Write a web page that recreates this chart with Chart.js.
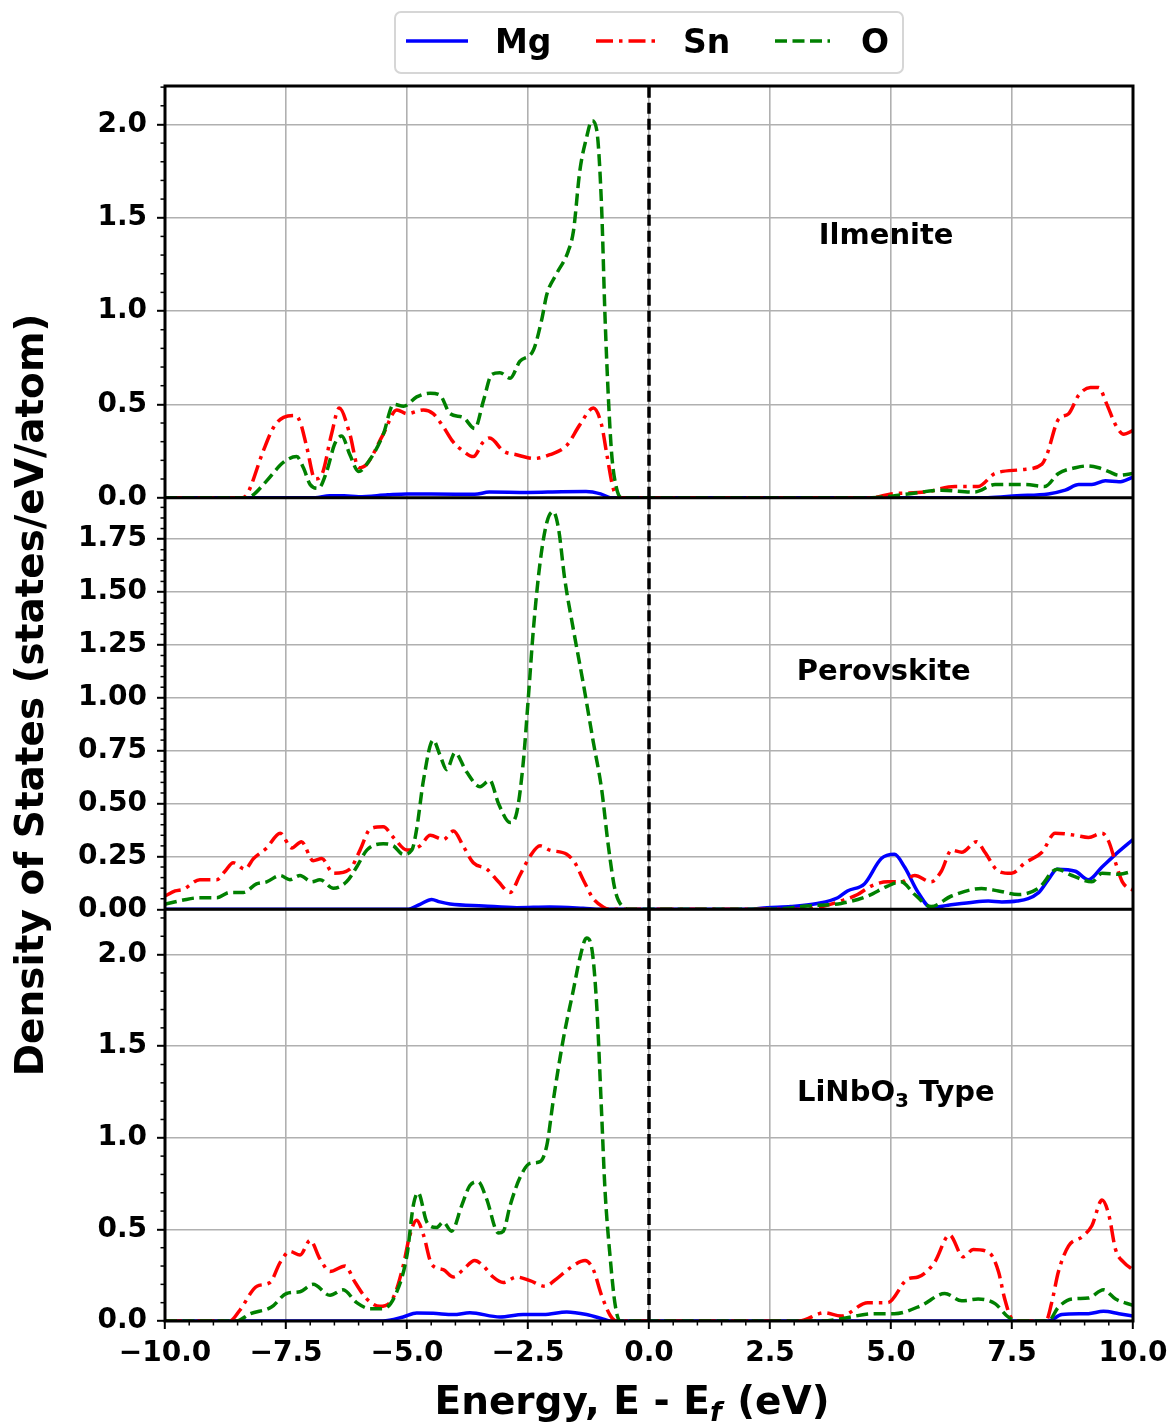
<!DOCTYPE html>
<html>
<head>
<meta charset="utf-8">
<script src="https://cdn.jsdelivr.net/npm/chart.js@4.4.0/dist/chart.umd.min.js"></script>
<style>
  html, body { margin: 0; padding: 0; background: #fff; }
  #wrap { position: relative; width: 1172px; height: 1424px; }
</style>
</head>
<body>
<div id="wrap"><canvas id="dos" width="1172" height="1424"></canvas></div>
<script>
const FONT = '"DejaVu Sans", sans-serif';

// axis ticks
const energyTicks = [-10, -7.5, -5, -2.5, 0, 2.5, 5, 7.5, 10];
const ilmeniteTicks = [0, 0.5, 1, 1.5, 2];
const perovskiteTicks = [0, 0.25, 0.5, 0.75, 1, 1.25, 1.5, 1.75];
const linbo3Ticks = [0, 0.5, 1, 1.5, 2];
const elements = ['Mg', 'Sn', 'O'];

// [energy (eV), DOS]
const ilmeniteMg = [[-10,0],[-6.9,0],[-6.6,0.01],[-6.3,0.01],[-6.0,0.005],[-5.4,0.015],[-5.0,0.02],[-4.0,0.018],[-3.6,0.018],[-3.3,0.03],[-2.5,0.028],[-1.8,0.032],[-1.3,0.033],[-1.0,0.02],[-0.8,0],[7.0,0],[7.6,0.01],[8.25,0.02],[8.6,0.04],[8.88,0.07],[9.15,0.07],[9.43,0.09],[9.71,0.085],[10,0.11]];
const ilmeniteSn = [[-10,0],[-8.4,0],[-8.3,0.02],[-7.97,0.25],[-7.75,0.38],[-7.55,0.43],[-7.3,0.44],[-7.2,0.4],[-7.07,0.27],[-6.9,0.1],[-6.75,0.13],[-6.56,0.34],[-6.4,0.48],[-6.18,0.34],[-6.0,0.16],[-5.83,0.18],[-5.49,0.34],[-5.21,0.47],[-5.0,0.45],[-4.66,0.47],[-4.46,0.45],[-4.25,0.38],[-4.05,0.3],[-3.84,0.25],[-3.63,0.22],[-3.42,0.3],[-3.29,0.32],[-3.01,0.25],[-2.74,0.23],[-2.36,0.21],[-2.05,0.23],[-1.7,0.28],[-1.43,0.39],[-1.15,0.48],[-0.98,0.39],[-0.87,0.23],[-0.74,0.05],[-0.63,0],[4.6,0],[5.0,0.02],[5.7,0.03],[6.32,0.06],[6.8,0.06],[7.15,0.13],[7.7,0.15],[8.12,0.18],[8.22,0.23],[8.46,0.42],[8.67,0.45],[8.88,0.55],[9.12,0.59],[9.29,0.59],[9.46,0.5],[9.64,0.39],[9.81,0.34],[10,0.36]];
const ilmeniteO = [[-10,0],[-8.3,0],[-8.2,0.01],[-7.9,0.09],[-7.55,0.19],[-7.28,0.22],[-7.14,0.16],[-7.0,0.07],[-6.83,0.05],[-6.66,0.14],[-6.49,0.29],[-6.35,0.33],[-6.18,0.23],[-6.0,0.14],[-5.83,0.18],[-5.49,0.34],[-5.28,0.5],[-5.07,0.49],[-4.8,0.54],[-4.52,0.56],[-4.32,0.55],[-4.11,0.45],[-3.84,0.43],[-3.6,0.37],[-3.42,0.52],[-3.25,0.66],[-3.08,0.67],[-2.87,0.64],[-2.67,0.73],[-2.39,0.79],[-2.22,0.95],[-2.11,1.09],[-1.91,1.2],[-1.67,1.32],[-1.56,1.43],[-1.43,1.75],[-1.29,1.93],[-1.18,2.02],[-1.08,1.97],[-0.98,1.56],[-0.91,0.98],[-0.84,0.54],[-0.77,0.23],[-0.67,0.05],[-0.56,0],[4.6,0],[5.35,0.02],[6.04,0.04],[6.73,0.03],[7.15,0.07],[7.77,0.07],[8.18,0.06],[8.46,0.13],[8.81,0.16],[9.05,0.17],[9.29,0.16],[9.5,0.14],[9.71,0.12],[10,0.13]];

const perovskiteMg = [[-10,0],[-5.0,0],[-4.73,0.024],[-4.49,0.047],[-4.32,0.035],[-4.11,0.025],[-3.42,0.016],[-2.73,0.008],[-2.05,0.011],[-1.36,0.005],[-1.0,0],[2.0,0],[2.44,0.008],[2.93,0.013],[3.48,0.028],[3.9,0.055],[4.1,0.087],[4.45,0.12],[4.8,0.24],[5.07,0.26],[5.28,0.2],[5.56,0.08],[5.83,0.008],[6.18,0.019],[6.73,0.035],[7.01,0.039],[7.29,0.035],[7.6,0.039],[8.05,0.079],[8.25,0.14],[8.43,0.19],[8.81,0.18],[9.08,0.14],[9.36,0.2],[9.64,0.26],[10,0.33]];
const perovskiteSn = [[-10,0.063],[-9.79,0.087],[-9.62,0.095],[-9.28,0.14],[-8.93,0.14],[-8.76,0.18],[-8.59,0.22],[-8.35,0.19],[-8.17,0.24],[-7.9,0.29],[-7.62,0.36],[-7.38,0.29],[-7.18,0.32],[-6.94,0.23],[-6.76,0.24],[-6.52,0.17],[-6.18,0.19],[-5.97,0.28],[-5.76,0.38],[-5.49,0.39],[-5.28,0.34],[-5.0,0.28],[-4.73,0.3],[-4.52,0.35],[-4.25,0.33],[-4.04,0.37],[-3.84,0.3],[-3.63,0.22],[-3.35,0.19],[-3.11,0.13],[-2.87,0.08],[-2.67,0.16],[-2.46,0.25],[-2.25,0.3],[-2.05,0.28],[-1.7,0.26],[-1.53,0.22],[-1.36,0.14],[-1.15,0.05],[-0.94,0.01],[-0.8,0],[3.1,0],[3.62,0.016],[3.97,0.04],[4.31,0.07],[4.59,0.11],[4.93,0.13],[5.21,0.13],[5.49,0.16],[5.83,0.13],[6.04,0.18],[6.25,0.28],[6.46,0.27],[6.77,0.32],[6.94,0.27],[7.22,0.18],[7.49,0.17],[7.77,0.22],[8.12,0.27],[8.39,0.36],[8.81,0.35],[9.08,0.34],[9.36,0.36],[9.5,0.32],[9.64,0.22],[9.78,0.13],[10,0.09]];
const perovskiteO = [[-10,0.024],[-9.62,0.044],[-9.28,0.055],[-8.93,0.055],[-8.66,0.08],[-8.38,0.08],[-8.11,0.12],[-7.9,0.13],[-7.62,0.16],[-7.42,0.14],[-7.21,0.16],[-6.97,0.13],[-6.8,0.14],[-6.52,0.1],[-6.25,0.13],[-6.04,0.2],[-5.83,0.28],[-5.49,0.31],[-5.28,0.3],[-5.08,0.26],[-4.9,0.28],[-4.8,0.38],[-4.66,0.61],[-4.46,0.8],[-4.32,0.73],[-4.18,0.66],[-4.01,0.74],[-3.77,0.65],[-3.49,0.58],[-3.29,0.61],[-3.11,0.5],[-2.87,0.41],[-2.73,0.46],[-2.6,0.69],[-2.49,1.01],[-2.39,1.32],[-2.25,1.64],[-2.11,1.83],[-1.98,1.88],[-1.87,1.8],[-1.74,1.56],[-1.56,1.32],[-1.36,1.07],[-1.15,0.79],[-0.98,0.57],[-0.84,0.3],[-0.7,0.09],[-0.53,0.01],[-0.4,0],[2.5,0],[3.27,0.016],[3.97,0.028],[4.52,0.063],[4.93,0.11],[5.21,0.13],[5.49,0.07],[5.83,0.013],[6.25,0.063],[6.87,0.098],[7.22,0.087],[7.63,0.07],[8.05,0.1],[8.43,0.19],[8.74,0.16],[9.15,0.13],[9.36,0.17],[9.71,0.166],[10,0.18]];

const linbo3Mg = [[-10,0],[-5.5,0],[-5.08,0.022],[-4.8,0.044],[-4.46,0.042],[-4.04,0.035],[-3.7,0.045],[-3.08,0.022],[-2.6,0.035],[-2.18,0.035],[-1.7,0.049],[-1.29,0.035],[-0.94,0.01],[-0.8,0],[8.25,0],[8.53,0.035],[9.08,0.04],[9.39,0.053],[9.71,0.04],[10,0.027]];
const linbo3Sn = [[-10,0],[-8.66,0],[-8.45,0.06],[-8.1,0.19],[-7.83,0.21],[-7.62,0.32],[-7.42,0.38],[-7.21,0.36],[-7.0,0.44],[-6.8,0.34],[-6.59,0.27],[-6.28,0.3],[-6.07,0.21],[-5.83,0.12],[-5.56,0.08],[-5.28,0.13],[-5.08,0.3],[-4.94,0.47],[-4.8,0.55],[-4.66,0.47],[-4.49,0.31],[-4.25,0.28],[-4.04,0.24],[-3.84,0.28],[-3.6,0.33],[-3.42,0.3],[-3.22,0.24],[-3.01,0.21],[-2.74,0.24],[-2.46,0.22],[-2.15,0.19],[-1.91,0.23],[-1.63,0.29],[-1.32,0.33],[-1.15,0.28],[-0.98,0.14],[-0.8,0.03],[-0.67,0],[3.1,0],[3.62,0.045],[3.97,0.027],[4.52,0.1],[4.93,0.1],[5.35,0.23],[5.56,0.24],[5.9,0.32],[6.21,0.47],[6.49,0.35],[6.7,0.39],[7.04,0.37],[7.22,0.27],[7.35,0.12],[7.49,0.013],[7.6,0],[8.2,0],[8.32,0.1],[8.46,0.27],[8.67,0.41],[8.95,0.46],[9.15,0.52],[9.36,0.66],[9.5,0.58],[9.64,0.39],[9.81,0.32],[10,0.28]];
const linbo3O = [[-10,0],[-8.52,0],[-8.24,0.04],[-7.8,0.076],[-7.49,0.15],[-7.21,0.16],[-6.94,0.2],[-6.59,0.14],[-6.32,0.17],[-6.04,0.1],[-5.76,0.067],[-5.49,0.067],[-5.21,0.16],[-5.0,0.36],[-4.87,0.63],[-4.77,0.7],[-4.59,0.54],[-4.39,0.51],[-4.25,0.54],[-4.08,0.49],[-3.87,0.63],[-3.7,0.74],[-3.53,0.76],[-3.36,0.67],[-3.11,0.48],[-3.01,0.49],[-2.87,0.63],[-2.67,0.78],[-2.46,0.86],[-2.25,0.87],[-2.11,0.96],[-1.98,1.2],[-1.77,1.54],[-1.56,1.81],[-1.43,1.98],[-1.29,2.09],[-1.18,2.03],[-1.08,1.72],[-0.98,1.14],[-0.91,0.72],[-0.8,0.34],[-0.7,0.09],[-0.6,0],[3.6,0],[3.97,0.013],[4.66,0.04],[5.07,0.04],[5.63,0.085],[6.11,0.15],[6.46,0.11],[6.8,0.12],[7.15,0.095],[7.42,0.022],[7.6,0],[8.25,0],[8.46,0.076],[8.74,0.12],[9.08,0.125],[9.39,0.17],[9.64,0.12],[10,0.085]];

const panels = [
    { axis: 'yIlm', name: 'Ilmenite', max: 2.206, ticks: ilmeniteTicks, digits: 1, minor: 0.1, weight: 3,
      series: [ilmeniteMg, ilmeniteSn, ilmeniteO], labelAt: [4.9, 1.40] },
    { axis: 'yPer', name: 'Perovskite', max: 1.946, ticks: perovskiteTicks, digits: 2, minor: 0.05, weight: 2,
      series: [perovskiteMg, perovskiteSn, perovskiteO], labelAt: [4.85, 1.12] },
    { axis: 'yLin', name: 'LiNbO3 Type', max: 2.247, ticks: linbo3Ticks, digits: 1, minor: 0.1, weight: 1,
      series: [linbo3Mg, linbo3Sn, linbo3O], labelAt: [5.1, 1.24] }
];

const styles = {
    Mg: { color: '#0000ff', dash: [], order: 3 },
    Sn: { color: '#ff0000', dash: [17, 6, 3.5, 6], order: 2 },
    O: { color: '#008000', dash: [12, 5.5], order: 1 }
};

const fmtEnergy = v => (v < 0 ? '\u2212' : '') + Math.abs(v).toFixed(1);

const datasets = [];
panels.forEach(p => {
    elements.forEach((el, i) => {
        datasets.push({
            label: el,
            data: p.series[i],
            yAxisID: p.axis,
            borderColor: styles[el].color,
            borderDash: styles[el].dash,
            borderWidth: 3.5,
            pointRadius: 0,
            fill: false,
            cubicInterpolationMode: 'monotone',
            order: styles[el].order
        });
    });
    // Fermi level
    datasets.push({
        label: 'Ef',
        data: [[0, 0], [0, p.max]],
        yAxisID: p.axis,
        borderColor: '#000',
        borderDash: [11, 5],
        borderWidth: 3.5,
        pointRadius: 0,
        order: 0
    });
});

const gridOpts = { color: '#b0b0b0', lineWidth: 1.6, tickColor: '#000', tickLength: 8, tickWidth: 2 };
const tickFont = { family: FONT, weight: 'bold', size: 28 };

const scales = {
    x: {
        type: 'linear', min: -10, max: 10,
        afterBuildTicks: s => { s.ticks = energyTicks.map(v => ({ value: v })); },
        afterFit: s => { s.height = 60; s.paddingLeft = 0; s.paddingRight = 0; },
        grid: gridOpts,
        border: { display: false },
        ticks: { color: '#000', font: tickFont, padding: 8, maxRotation: 0, autoSkip: false, callback: v => fmtEnergy(v) }
    }
};
panels.forEach(p => {
    scales[p.axis] = {
        type: 'linear', position: 'left', stack: 'dos', stackWeight: 1, weight: p.weight,
        min: 0, max: p.max,
        afterBuildTicks: s => { s.ticks = p.ticks.map(v => ({ value: v })); },
        afterFit: s => { s.width = 150; s.paddingTop = 0; s.paddingBottom = 0; },
        grid: gridOpts,
        border: { display: false },
        ticks: { color: '#000', font: tickFont, padding: 10, autoSkip: false, callback: v => v.toFixed(p.digits) }
    };
});

function seg(ctx, x1, y1, x2, y2) {
    ctx.beginPath();
    ctx.moveTo(x1, y1);
    ctx.lineTo(x2, y2);
    ctx.stroke();
}

const decor = {
    id: 'decor',
    afterDatasetsDraw(chart) {
        const { ctx, chartArea: a, scales: sc } = chart;
        ctx.save();
        ctx.strokeStyle = '#000';
        ctx.lineWidth = 1.5;
        ctx.setLineDash([]);

        // minor ticks
        panels.forEach(p => {
            const s = sc[p.axis];
            for (let i = 1; i * p.minor < p.max; i++) {
                const v = i * p.minor;
                if (p.ticks.some(t => Math.abs(t - v) < 1e-6)) continue;
                const y = s.getPixelForValue(v);
                seg(ctx, a.left - 4.5, y, a.left, y);
            }
        });
        for (let v = -9.5; v < 10; v += 0.5) {
            if (energyTicks.some(t => Math.abs(t - v) < 1e-6)) continue;
            const x = sc.x.getPixelForValue(v);
            seg(ctx, x, a.bottom, x, a.bottom + 4.5);
        }

        // frames
        ctx.lineWidth = 3;
        ctx.strokeRect(a.left, a.top, a.right - a.left, a.bottom - a.top);
        panels.slice(0, -1).forEach(p => {
            const y = sc[p.axis].bottom;
            seg(ctx, a.left, y, a.right, y);
        });

        // panel labels
        ctx.fillStyle = '#000';
        ctx.textBaseline = 'middle';
        panels.forEach(p => {
            const cx = sc.x.getPixelForValue(p.labelAt[0]);
            const cy = sc[p.axis].getPixelForValue(p.labelAt[1]);
            const big = 'bold 29px ' + FONT;
            const small = 'bold 20px ' + FONT;
            if (p.name.startsWith('LiNbO3')) {
                ctx.font = big;
                const w1 = ctx.measureText('LiNbO').width;
                const w3 = ctx.measureText(' Type').width;
                ctx.font = small;
                const w2 = ctx.measureText('3').width;
                let x = cx - (w1 + w2 + w3) / 2;
                ctx.textAlign = 'left';
                ctx.font = big;
                ctx.fillText('LiNbO', x, cy);
                x += w1;
                ctx.font = small;
                ctx.fillText('3', x, cy + 8);
                x += w2;
                ctx.font = big;
                ctx.fillText(' Type', x, cy);
            } else {
                ctx.font = big;
                ctx.textAlign = 'center';
                ctx.fillText(p.name, cx, cy);
            }
        });
        ctx.restore();
    },
    afterDraw(chart) {
        const { ctx } = chart;
        ctx.save();

        // legend
        ctx.beginPath();
        ctx.roundRect(395, 12, 508, 61, 6);
        ctx.fillStyle = '#fff';
        ctx.fill();
        ctx.strokeStyle = '#d6d6d6';
        ctx.lineWidth = 2;
        ctx.stroke();
        const items = [
            { el: 'Mg', x1: 406, x2: 468, tx: 495 },
            { el: 'Sn', x1: 596, x2: 655, tx: 683 },
            { el: 'O', x1: 775, x2: 830, tx: 861 }
        ];
        items.forEach(it => {
            ctx.strokeStyle = styles[it.el].color;
            ctx.setLineDash(styles[it.el].dash);
            ctx.lineWidth = 3.5;
            seg(ctx, it.x1, 41, it.x2, 41);
            ctx.setLineDash([]);
            ctx.fillStyle = '#000';
            ctx.font = 'bold 33px ' + FONT;
            ctx.textAlign = 'left';
            ctx.textBaseline = 'alphabetic';
            ctx.fillText(it.el, it.tx, 53);
        });

        // y title
        ctx.fillStyle = '#000';
        ctx.save();
        ctx.translate(33, 695);
        ctx.rotate(-Math.PI / 2);
        ctx.font = 'bold 39px ' + FONT;
        ctx.textAlign = 'center';
        ctx.textBaseline = 'middle';
        ctx.fillText('Density of States (states/eV/atom)', 0, 0);
        ctx.restore();

        // x title with italic subscript
        const big = 'bold 39px ' + FONT;
        const sub = 'italic bold 27px ' + FONT;
        ctx.font = big;
        const p1 = 'Energy, E - E', p3 = ' (eV)';
        const w1 = ctx.measureText(p1).width, w3 = ctx.measureText(p3).width;
        ctx.font = sub;
        const w2 = ctx.measureText('f').width + 2;
        let x = 632 - (w1 + w2 + w3) / 2;
        ctx.textAlign = 'left';
        ctx.textBaseline = 'alphabetic';
        ctx.font = big;
        ctx.fillText(p1, x, 1414);
        x += w1;
        ctx.font = sub;
        ctx.fillText('f', x, 1421);
        x += w2;
        ctx.font = big;
        ctx.fillText(p3, x, 1414);
        ctx.restore();
    }
};

new Chart(document.getElementById('dos'), {
    type: 'line',
    data: { datasets },
    options: {
        responsive: false,
        animation: false,
        events: [],
        layout: { padding: { left: 15, right: 39, top: 86, bottom: 43 } },
        plugins: { legend: { display: false }, tooltip: { enabled: false } },
        scales
    },
    plugins: [decor]
});
</script>
</body>
</html>
